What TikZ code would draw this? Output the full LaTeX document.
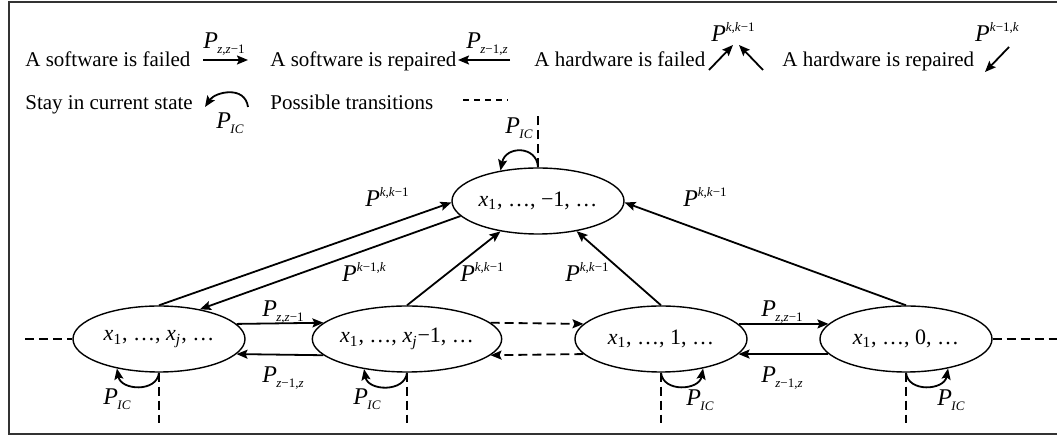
\documentclass[tikz,border=0pt]{standalone}
\usepackage{fontspec}
\setmainfont{Liberation Serif}
\usetikzlibrary{shapes.geometric,arrows.meta}
\newcommand\Pl[1]{{\fontsize{12}{14}\selectfont\textit{P}}\kern-0.3pt\raisebox{-0.5ex}{\fontsize{6.5}{7}\selectfont #1}}
\newcommand\Pu[1]{{\fontsize{12}{14}\selectfont\textit{P}}\raisebox{0.95ex}{\fontsize{6.5}{7}\selectfont #1}}
\newcommand\It[1]{\textit{#1}}
\begin{document}
\begin{tikzpicture}[x=0.5pt,y=-0.5pt, font=\fontsize{10.5}{12}\selectfont,
 state/.style={draw, ellipse, line width=0.7pt, minimum width=86pt, minimum height=33pt, inner sep=0pt, font=\fontsize{11}{13}\selectfont},
 arr/.style={line width=0.9pt, -{Stealth[length=5.5pt,width=4.5pt,inset=1pt]}},
 dsh/.style={line width=0.6pt, dash pattern=on 4.5pt off 2.5pt},
 ldsh/.style={line width=0.6pt, dash pattern=on 3pt off 2.5pt},
 darr/.style={arr, dash pattern=on 4.5pt off 2.5pt},
 lbl/.style={inner sep=0pt},
 txt/.style={inner sep=0pt, anchor=base west}]
\useasboundingbox (0,0) rectangle (1057,437);
\draw[line width=1pt, black!80] (1057,2) -- (9,2) -- (9,434) -- (1057,434);

% legend
\node[txt] (l1) at (25,67) {A software is failed};
\node[txt] (l2) at (270,67) {A software is repaired};
\node[txt] (l3) at (534,67) {A hardware is failed};
\node[txt] (l4) at (782,67) {A hardware is repaired};
\node[txt] (l5) at (25,110) {Stay in current state};
\node[txt] (l6) at (270,110) {Possible transitions};
\coordinate (a1s) at (203,60); \coordinate (a1e) at (248,60);
\coordinate (a2s) at (510,60); \coordinate (a2e) at (458,60);
\coordinate (a3s) at (709,70); \coordinate (a3e) at (733,45);
\coordinate (a4s) at (763,70); \coordinate (a4e) at (739,45);
\coordinate (a5s) at (1009,47); \coordinate (a5e) at (985,72);
\coordinate (a6s) at (248,107); \coordinate (a6e) at (205,107);
\coordinate (a7s) at (463,100); \coordinate (a7e) at (508,100);
\draw[arr] (a1s) -- (a1e);
\draw[arr] (a2s) -- (a2e);
\draw[arr] (a3s) -- (a3e);
\draw[arr] (a4s) -- (a4e);
\draw[arr] (a5s) -- (a5e);
\draw[arr] (a6s) .. controls (245,85) and (215,92) .. (a6e);
\draw[ldsh] (a7s) -- (a7e);
\node[lbl] (lp1) at (224,44) {\Pl{\It{z},\It{z}−1}};
\node[lbl] (lp2) at (487,44) {\Pl{\It{z}−1,\It{z}}};
\node[lbl] (lp3) at (733,32) {\Pu{\It{k},\It{k}−1}};
\node[lbl] (lp4) at (997,32) {\Pu{\It{k}−1,\It{k}}};
\node[lbl] (lp5) at (230,123) {\Pl{\It{IC}}};

% states
\node[state] (t) at (538,201) {\It{x}\textsubscript{1}, …, −1, …};
\node[state] (e1) at (159,339) {\It{x}\textsubscript{1}, …, \It{x}\textsubscript{\It{j}}, …};
\node[state] (e2) at (407,339) {\It{x}\textsubscript{1}, …, \It{x}\textsubscript{\It{j}}−1, …};
\node[state] (e3) at (661,339) {\It{x}\textsubscript{1}, …, 1, …};
\node[state] (e4) at (906,339) {\It{x}\textsubscript{1}, …, 0, …};

% diagonal transitions
\draw[arr] (e1.north) -- (t.181);
\draw[arr] (t.191) -- (e1.36);
\draw[arr] (e2.north) -- (t.219);
\draw[arr] (e3.north) -- (t.322);
\draw[arr] (e4.north) -- (t.359);

% horizontal transitions
\draw[arr] (e1.11) -- (e2.169);
\draw[arr] (e2.191) -- (e1.349);
\draw[darr] (e2.11) -- (e3.169);
\draw[darr] (e3.191) -- (e2.349);
\draw[arr] (e3.11) -- (e4.169);
\draw[arr] (e4.191) -- (e3.349);

% dashed possible transitions
\coordinate (dl) at (25,339);
\coordinate (dr) at (1057,339);
\coordinate (dt) at (538,115);
\coordinate (d1) at (159,423);
\coordinate (d2) at (407,423);
\coordinate (d3) at (661,423);
\coordinate (d4) at (906,423);
\draw[dsh] (dl) -- (e1.west);
\draw[dsh] (e4.east) -- (dr);
\draw[dsh] (t.north) -- (dt);
\draw[dsh] (e1.south) -- (d1);
\draw[dsh] (e2.south) -- (d2);
\draw[dsh] (e3.south) -- (d3);
\draw[dsh] (e4.south) -- (d4);

% self loops
\draw[arr] (e1.south) .. controls +(-2,20) and +(4,22) .. (e1.215);
\draw[arr] (e2.south) .. controls +(-2,20) and +(4,22) .. (e2.215);
\draw[arr] (e3.south) .. controls +(2,20) and +(-4,22) .. (e3.325);
\draw[arr] (e4.south) .. controls +(2,20) and +(-4,22) .. (e4.325);
\draw[arr] (t.north) .. controls +(-1,-22) and +(5,-25) .. (t.141);

% labels
\node[lbl] (p1) at (283,312) {\Pl{\It{z},\It{z}−1}};
\node[lbl] (p2) at (283,378) {\Pl{\It{z}−1,\It{z}}};
\node[lbl] (p3) at (782,312) {\Pl{\It{z},\It{z}−1}};
\node[lbl] (p4) at (782,378) {\Pl{\It{z}−1,\It{z}}};
\node[lbl] (c1) at (117,399) {\Pl{\It{IC}}};
\node[lbl] (c2) at (367,399) {\Pl{\It{IC}}};
\node[lbl] (c3) at (700,400) {\Pl{\It{IC}}};
\node[lbl] (c4) at (951,400) {\Pl{\It{IC}}};
\node[lbl] (ct) at (519,128) {\Pl{\It{IC}}};
\node[lbl] (h1) at (387,197) {\Pu{\It{k},\It{k}−1}};
\node[lbl] (h2) at (364,272) {\Pu{\It{k}−1,\It{k}}};
\node[lbl] (h3) at (482,272) {\Pu{\It{k},\It{k}−1}};
\node[lbl] (h4) at (587,272) {\Pu{\It{k},\It{k}−1}};
\node[lbl] (h5) at (705,197) {\Pu{\It{k},\It{k}−1}};
\end{tikzpicture}
\end{document}
